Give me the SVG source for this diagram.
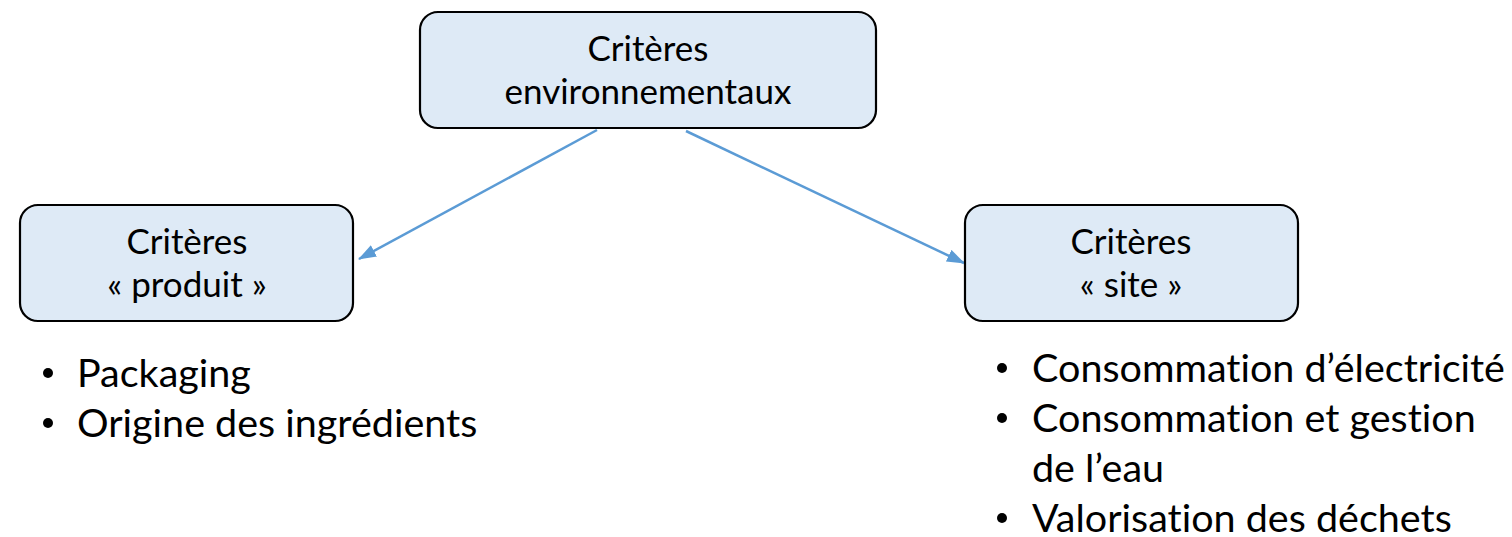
<svg xmlns="http://www.w3.org/2000/svg" width="1512" height="537" viewBox="0 0 1512 537">
<style>
.box{fill:#DEEAF6;stroke:#000;stroke-width:2.2}
.t{font-family:Lato,"Liberation Sans",sans-serif;font-size:35px;fill:#000;text-anchor:middle;font-variant-ligatures:none}
.b{font-family:Lato,"Liberation Sans",sans-serif;font-size:39.5px;fill:#000;font-variant-ligatures:none}
.c{stroke:#5B9BD5;stroke-width:2.5;fill:none;marker-end:url(#ah)}
</style>
<defs>
<marker id="ah" markerWidth="18" markerHeight="13" refX="17" refY="6.5" orient="auto" markerUnits="userSpaceOnUse" viewBox="0 0 18 13">
<path d="M0,0 L18,6.5 L0,13 z" fill="#5B9BD5"/>
</marker>
</defs>
<rect width="1512" height="537" fill="#fff"/>
<g id="connectors">
<line class="c" x1="597" y1="130" x2="359" y2="259"/>
<line class="c" x1="686" y1="131" x2="964" y2="263"/>
</g>
<g id="top">
<rect class="box" x="420" y="12" width="456" height="116" rx="18"/>
<text class="t" x="648" y="61">Critères</text>
<text class="t" x="648" y="104">environnementaux</text>
</g>
<g id="produit">
<rect class="box" x="20" y="205" width="333" height="116" rx="18"/>
<text class="t" x="187" y="254">Critères</text>
<text class="t" x="187" y="297">« produit »</text>
</g>
<g id="site">
<rect class="box" x="965" y="205" width="333" height="116" rx="18"/>
<text class="t" x="1131" y="254">Critères</text>
<text class="t" x="1131" y="297">« site »</text>
</g>
<g id="produit-list">
<circle cx="48" cy="373" r="5"/>
<text class="b" x="77" y="387">Packaging</text>
<circle cx="48" cy="423" r="5"/>
<text class="b" x="77" y="437">Origine des ingrédients</text>
</g>
<g id="site-list">
<circle cx="1002" cy="368" r="5"/>
<text class="b" x="1032" y="382">Consommation d’électricité</text>
<circle cx="1002" cy="418" r="5"/>
<text class="b" x="1032" y="432">Consommation et gestion</text>
<text class="b" x="1032" y="482">de l’eau</text>
<circle cx="1002" cy="518" r="5"/>
<text class="b" x="1032" y="532">Valorisation des déchets</text>
</g>
</svg>
